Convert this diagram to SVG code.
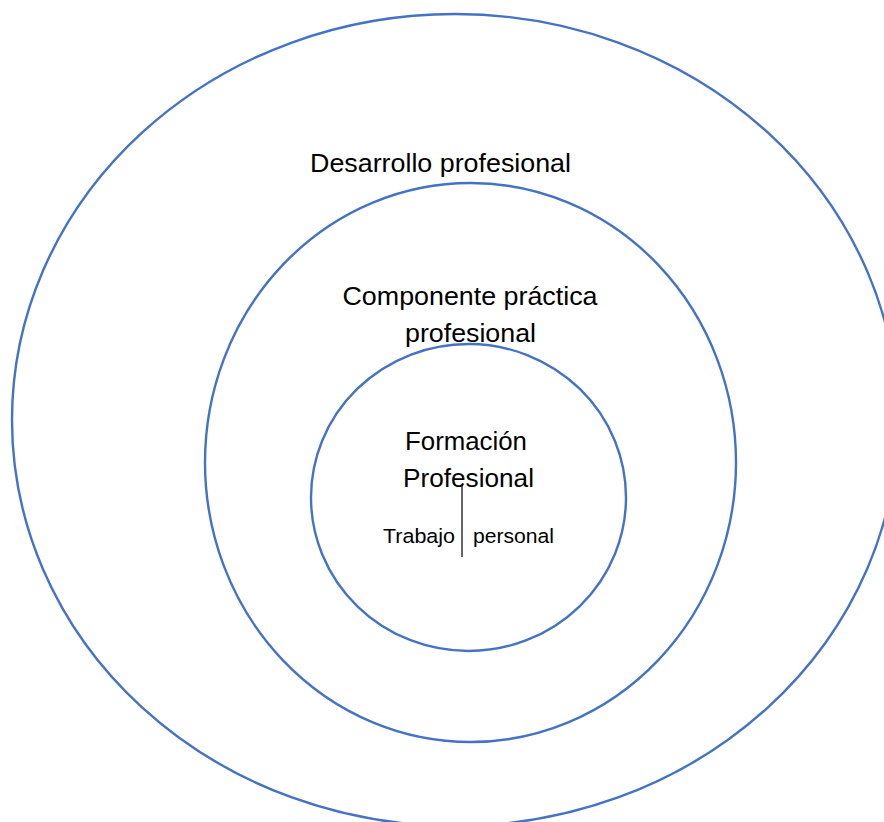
<svg xmlns="http://www.w3.org/2000/svg" width="884" height="822" viewBox="0 0 884 822">
<style>
.ring{fill:none;stroke:#4472C4;stroke-width:2.4}
.lbl{font-family:"Liberation Sans",Arial,sans-serif;font-size:26px;fill:#000}
.sm{font-family:"Liberation Sans",Arial,sans-serif;font-size:20.5px;fill:#000}
</style>
<rect width="884" height="822" fill="#fff"/>
<g id="desarrollo">
<ellipse class="ring" cx="455" cy="420" rx="443" ry="406"/>
<text class="lbl" x="310" y="172" textLength="261" lengthAdjust="spacingAndGlyphs">Desarrollo profesional</text>
</g>
<g id="componente">
<ellipse class="ring" cx="470.5" cy="462.5" rx="265.5" ry="279.5"/>
<text class="lbl" x="342.5" y="305" textLength="255" lengthAdjust="spacingAndGlyphs">Componente práctica</text>
<text class="lbl" x="405" y="342" textLength="131" lengthAdjust="spacingAndGlyphs">profesional</text>
</g>
<g id="formacion">
<ellipse class="ring" cx="468.5" cy="497.5" rx="157.5" ry="153.5"/>
<text class="lbl" x="405" y="450" textLength="122" lengthAdjust="spacingAndGlyphs">Formación</text>
<text class="lbl" x="403" y="487" textLength="131" lengthAdjust="spacingAndGlyphs">Profesional</text>
<text class="sm" x="383" y="543" textLength="72" lengthAdjust="spacingAndGlyphs">Trabajo</text>
<text class="sm" x="473" y="543" textLength="81" lengthAdjust="spacingAndGlyphs">personal</text>
</g>
<g id="connectors">
<line x1="462" y1="485" x2="462" y2="557" stroke="#000" stroke-width="1.2"/>
</g>
</svg>
